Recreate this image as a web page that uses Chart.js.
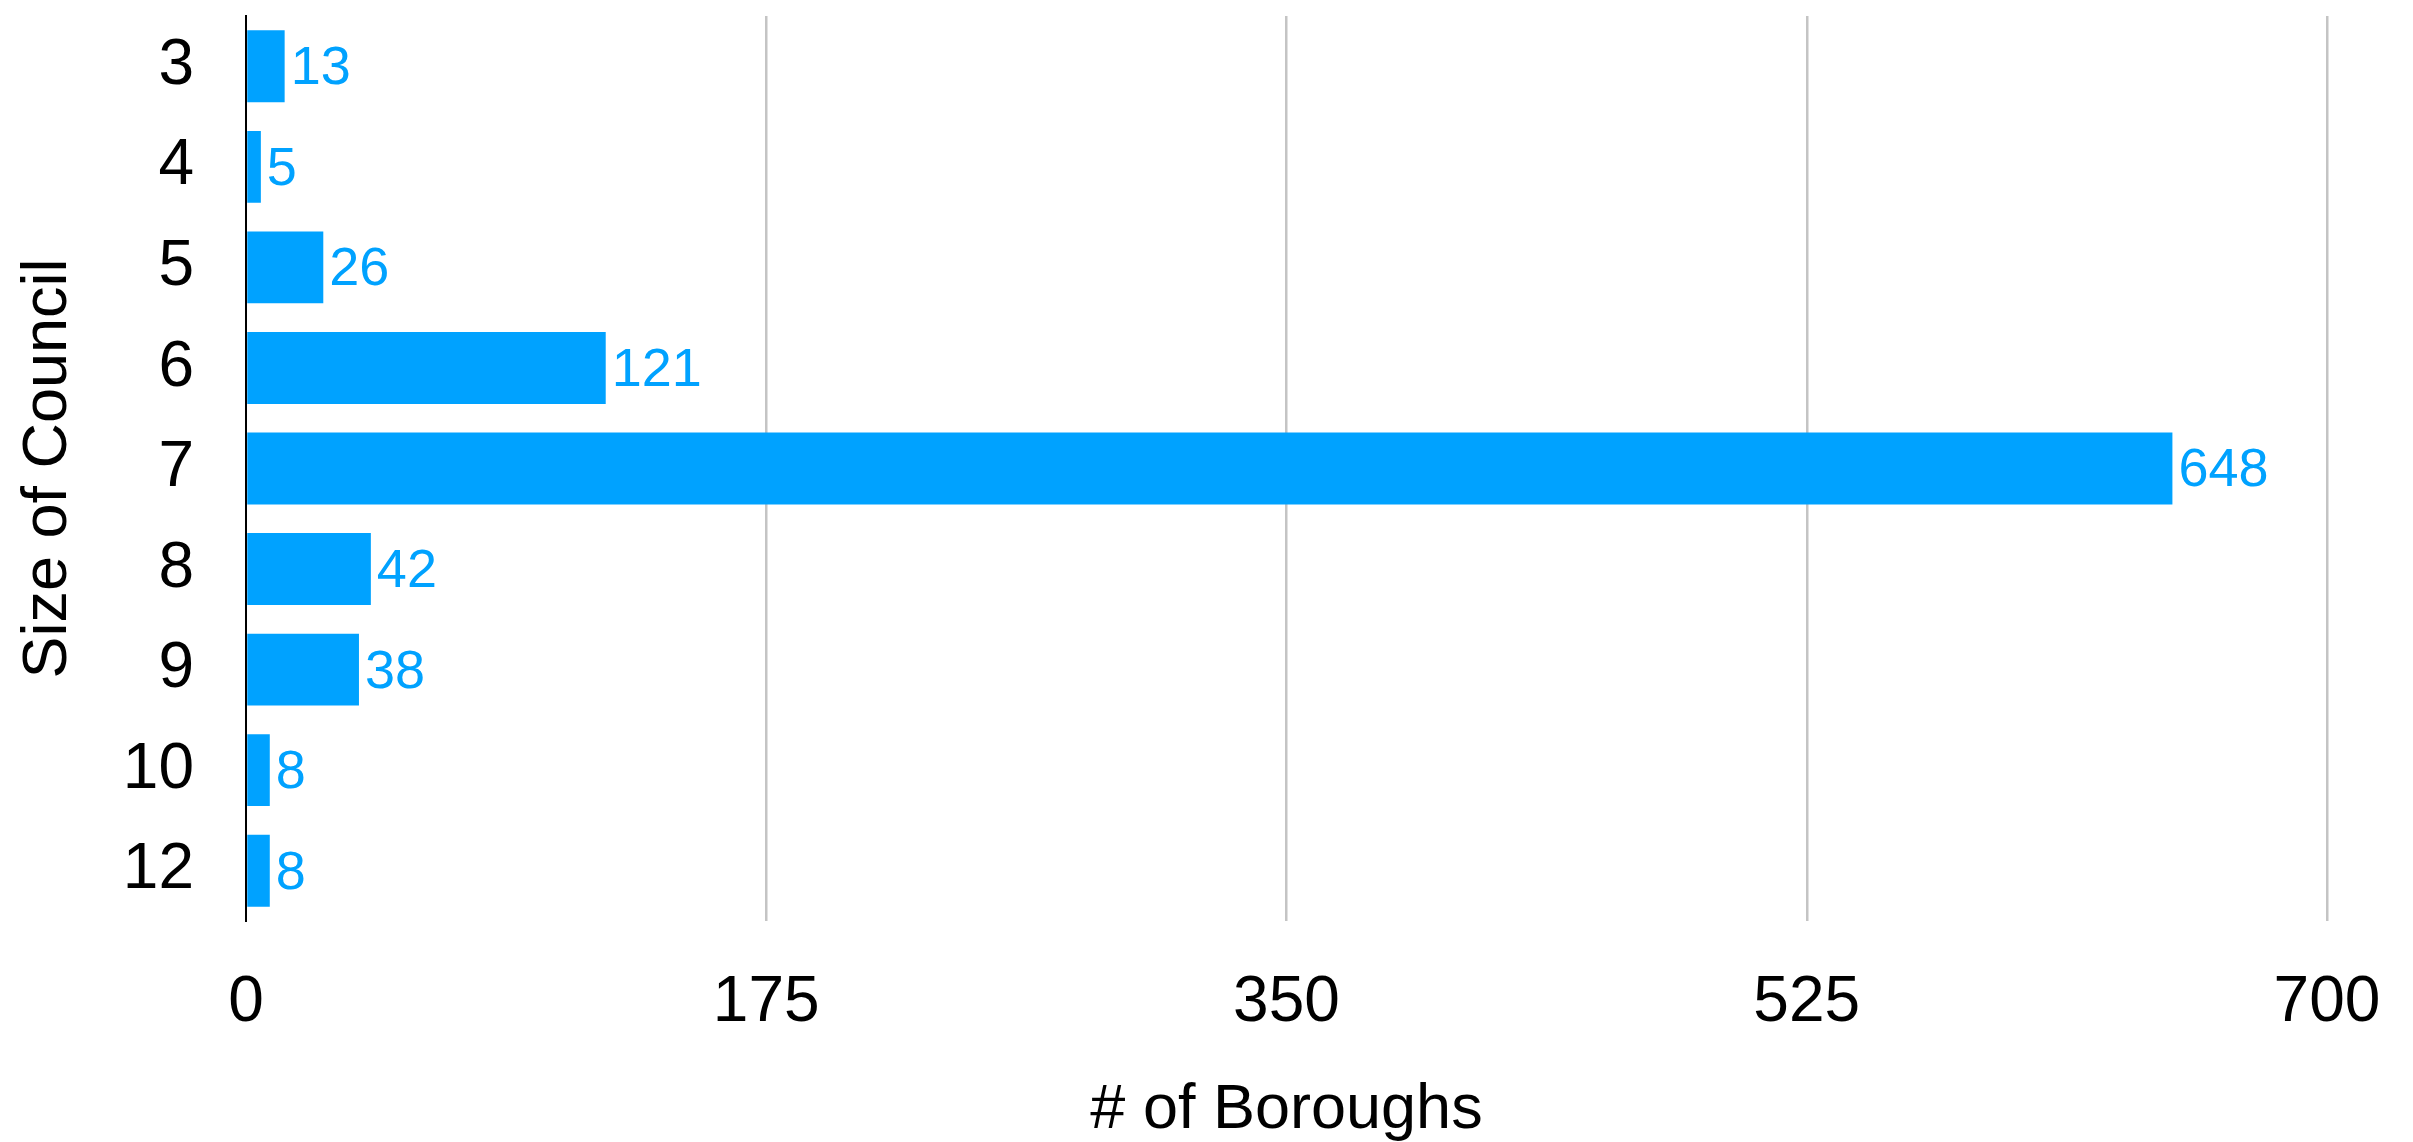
<!DOCTYPE html>
<html>
<head>
    <title>Size of Council</title>
    <script src="https://cdn.jsdelivr.net/npm/chart.js"></script>
    <style>
        html, body { margin: 0; padding: 0; background: #fff; }
        #wrap { width: 2413px; height: 1142px; position: relative; }
    </style>
</head>
<body>
    <div id="wrap"><canvas id="councilChart"></canvas></div>
    <script>
        // data
        const councilSizes = ["3", "4", "5", "6", "7", "8", "9", "10", "12"];
        const boroughCounts = [13, 5, 26, 121, 648, 42, 38, 8, 8];
        const xTicks = [0, 175, 350, 525, 700];

        const BLUE = "#00A2FF";
        const FONT = "'Liberation Sans', Arial, Helvetica, sans-serif";

        // draws the count just right of each bar end
        const valueLabels = {
            id: "valueLabels",
            afterDatasetsDraw(chart) {
                const ctx = chart.ctx;
                const meta = chart.getDatasetMeta(0);
                ctx.save();
                ctx.font = "54px " + FONT;
                ctx.fillStyle = BLUE;
                ctx.textAlign = "left";
                ctx.textBaseline = "middle";
                meta.data.forEach((bar, i) => {
                    ctx.fillText(String(boroughCounts[i]), bar.x + 6, bar.y + 3);
                });
                ctx.restore();
            }
        };

        const ctx = document.getElementById("councilChart").getContext("2d");
        new Chart(ctx, {
            type: "bar",
            data: {
                labels: councilSizes,
                datasets: [{
                    label: "# of Boroughs",
                    data: boroughCounts,
                    backgroundColor: BLUE,
                    borderWidth: 0,
                    categoryPercentage: 1,
                    barPercentage: 0.715
                }]
            },
            options: {
                indexAxis: "y",
                responsive: true,
                maintainAspectRatio: false,
                animation: false,
                layout: { padding: { top: 16, right: 86, left: 0, bottom: 0 } },
                plugins: {
                    legend: { display: false },
                    tooltip: { enabled: false }
                },
                scales: {
                    x: {
                        min: 0,
                        max: 700,
                        afterBuildTicks: axis => { axis.ticks = xTicks.map(v => ({ value: v })); },
                        afterFit: axis => {
                            axis.height = 221;
                            axis.paddingLeft = 0;
                            axis.paddingRight = 0;
                        },
                        grid: {
                            drawTicks: false,
                            color: c => c.tick && c.tick.value === 0 ? "rgba(0,0,0,0)" : "#c4c4c4",
                            lineWidth: 2.5
                        },
                        border: { display: false },
                        ticks: {
                            color: "#000",
                            padding: 44,
                            maxRotation: 0,
                            font: { family: FONT, size: 64 }
                        },
                        title: {
                            display: true,
                            text: "# of Boroughs",
                            color: "#000",
                            padding: { top: 0, bottom: -6 },
                            font: { family: FONT, size: 63 }
                        }
                    },
                    y: {
                        afterFit: axis => {
                            axis.width = 246;
                            axis.paddingTop = 0;
                            axis.paddingBottom = 0;
                        },
                        grid: { display: false, drawTicks: false },
                        border: { display: true, color: "#000", width: 2 },
                        ticks: {
                            color: "#000",
                            padding: 52,
                            font: { family: FONT, size: 64 }
                        },
                        title: {
                            display: true,
                            text: "Size of Council",
                            color: "#000",
                            padding: { top: 11, bottom: 0 },
                            font: { family: FONT, size: 63 }
                        }
                    }
                }
            },
            plugins: [valueLabels]
        });
    </script>
</body>
</html>
